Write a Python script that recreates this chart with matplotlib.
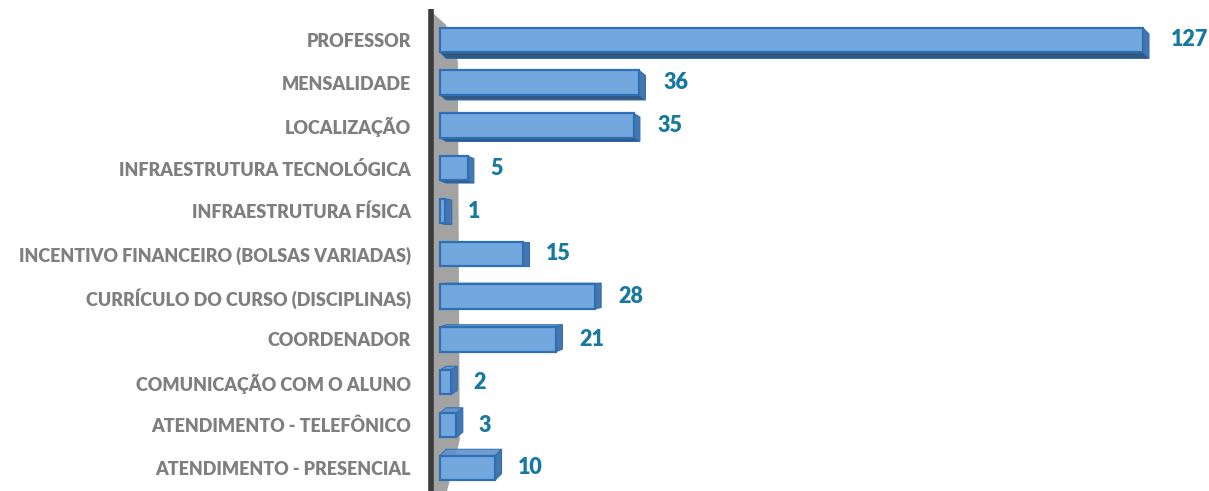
import matplotlib
matplotlib.use("Agg")
import matplotlib.pyplot as plt
from matplotlib.patches import Polygon

# ---------- data (bottom to top) ----------
categories = [
    "ATENDIMENTO - PRESENCIAL",
    "ATENDIMENTO - TELEFÔNICO",
    "COMUNICAÇÃO COM O ALUNO",
    "COORDENADOR",
    "CURRÍCULO DO CURSO (DISCIPLINAS)",
    "INCENTIVO FINANCEIRO (BOLSAS VARIADAS)",
    "INFRAESTRUTURA FÍSICA",
    "INFRAESTRUTURA TECNOLÓGICA",
    "LOCALIZAÇÃO",
    "MENSALIDADE",
    "PROFESSOR",
]
values = [10, 3, 2, 21, 28, 15, 1, 5, 35, 36, 127]

# ---------- style ----------
front_color = "#72a8de"
edge_color = "#2f6fb3"
side_color = "#4576ae"
bottom_color = "#34587f"
top_color = "#5f93cf"
label_color = "#7f7f7f"
value_color = "#17799f"

plt.rcParams["font.family"] = ["Lato", "DejaVu Sans"]

fig = plt.figure(figsize=(12.09, 4.91), dpi=100)
ax = fig.add_axes([426 / 1209, 0, 783 / 1209, 1])
ax.set_xlim(-2.5, 139)
ax.set_ylim(-0.54, 10.93)

# back wall
wall = Polygon([(-1.45, 10.65), (1.1, 10.35), (3.25, 9.5), (3.6, 0.65),
                (1.3, -0.54), (-1.45, -0.54)], closed=True,
               facecolor="#a3a3a3", edgecolor="none", zorder=0)
ax.add_patch(wall)
ax.plot([-1.6, -1.6], [10.72, -0.54], color="#3c3c3c", lw=4,
        solid_capstyle="butt", zorder=1)

h = 0.57
dx = 1.15
mid = 5
for i, v in enumerate(values):
    y0, y1 = i - h / 2, i + h / 2
    dy = (mid - i) * 0.03
    if dy < 0:
        face = [(0, y0), (v, y0), (v + dx, y0 + dy), (dx, y0 + dy)]
        ax.add_patch(Polygon(face, closed=True, facecolor=bottom_color,
                             edgecolor=edge_color, lw=0.8, zorder=2))
    elif dy > 0:
        face = [(0, y1), (v, y1), (v + dx, y1 + dy), (dx, y1 + dy)]
        ax.add_patch(Polygon(face, closed=True, facecolor=top_color,
                             edgecolor=edge_color, lw=0.8, alpha=0.9, zorder=2))
    side = [(v, y0), (v, y1), (v + dx, y1 + dy), (v + dx, y0 + dy)]
    ax.add_patch(Polygon(side, closed=True, facecolor=side_color,
                         edgecolor=edge_color, lw=0.8, zorder=2))

ax.barh(range(len(values)), values, height=h, color=front_color,
        edgecolor=edge_color, linewidth=1.6, zorder=3)

for i, v in enumerate(values):
    ax.text(v * 1.009 + 4, i, str(v), ha="left", va="center",
            fontsize=15.5, fontweight="heavy", color=value_color)

ax.set_yticks(range(len(categories)), categories)
ax.tick_params(axis="y", length=0, pad=10.8, labelsize=13,
               labelcolor=label_color)
for t in ax.get_yticklabels():
    t.set_fontweight("heavy")
ax.set_xticks([])
for s in ax.spines.values():
    s.set_visible(False)
ax.patch.set_alpha(0)

fig.savefig("out.png", dpi=100)
